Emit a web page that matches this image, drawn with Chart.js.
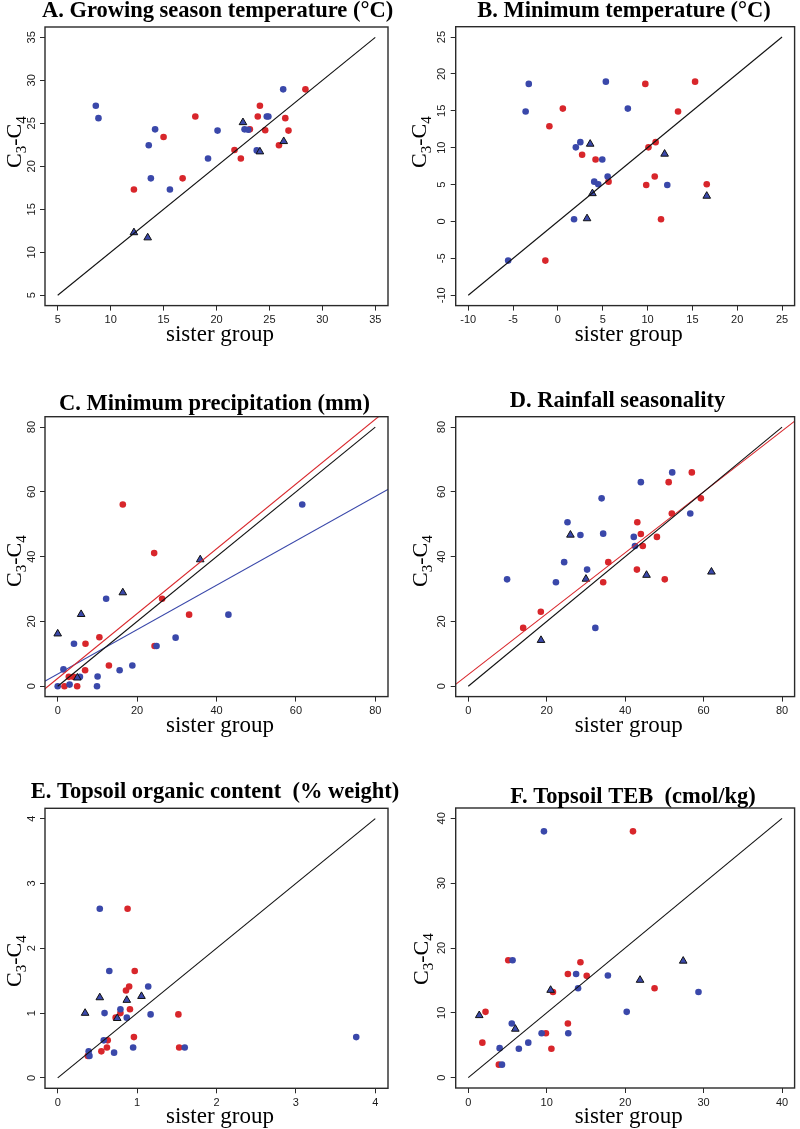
<!DOCTYPE html>
<html><head><meta charset="utf-8">
<script src="https://cdn.jsdelivr.net/npm/chart.js@4.4.0/dist/chart.umd.min.js"></script>
<style>
html,body{margin:0;padding:0;background:#fff;width:800px;height:1129px;overflow:hidden;position:relative}
canvas{position:absolute}
</style></head><body>
<canvas id="cA"></canvas><canvas id="cC"></canvas><canvas id="cE"></canvas>
<canvas id="cB"></canvas><canvas id="cD"></canvas><canvas id="cF"></canvas>
<script>
// ---------- DATA ----------
// Panel A: Growing season temperature
const A_ticks=[5,10,15,20,25,30,35];
const A_red=[[12.2,17.3],[15.0,23.4],[16.8,18.6],[18.0,25.8],[21.7,21.9],[22.3,20.9],[23.15,24.3],[23.9,25.8],[24.1,27.05],[24.6,24.2],[25.9,22.45],[26.5,25.6],[26.8,24.15],[28.4,28.95]];
const A_blue=[[8.6,27.05],[8.85,25.6],[13.6,22.45],[13.8,18.6],[14.2,24.3],[15.6,17.3],[19.2,20.9],[20.1,24.15],[22.65,24.3],[23.0,24.25],[23.8,21.85],[24.75,25.8],[24.9,25.8],[26.3,28.95]];
const A_tri=[[12.2,12.3],[13.5,11.7],[22.5,25.1],[24.1,21.7],[26.35,22.9]];
const A_one=[[5,5],[35,35]];
// Panel B: Minimum temperature
const B_ticks=[-10,-5,0,5,10,15,20,25];
const B_red=[[-1.4,-5.3],[-0.95,12.9],[0.55,15.3],[2.7,9.05],[4.2,8.4],[5.65,5.4],[9.75,18.65],[9.85,4.95],[10.1,10.05],[10.8,6.1],[10.9,10.75],[11.5,0.3],[13.4,14.9],[15.3,18.95],[16.6,5.05]];
const B_blue=[[-5.55,-5.3],[-3.6,14.9],[-3.25,18.65],[1.8,0.3],[2.0,10.05],[2.5,10.75],[4.05,5.4],[4.5,5.05],[4.95,8.4],[5.35,18.95],[5.55,6.1],[7.8,15.3],[12.2,4.95]];
const B_tri=[[3.6,10.5],[3.85,3.8],[3.25,0.4],[11.9,9.15],[16.6,3.45]];
const B_one=[[-10,-10],[25,25]];
// Panel C: Minimum precipitation
const C_ticks=[0,20,40,60,80];
const C_red=[[1.7,0],[2.8,2.9],[3.95,2.9],[4.9,0],[6.9,4.95],[7.0,13.1],[10.5,15.1],[12.9,6.4],[16.4,56.1],[24.3,41.1],[24.4,12.4],[26.3,27.0],[33.1,22.1]];
const C_blue=[[0,0],[1.45,5.2],[3.0,0.5],[4.1,13.1],[5.6,2.9],[9.9,0],[10.05,3.0],[12.2,27.0],[15.6,4.95],[18.8,6.4],[24.9,12.4],[29.7,15.0],[43.0,22.1],[61.6,56.1]];
const C_tri=[[0,16.2],[5.9,22.2],[4.95,2.6],[16.4,28.9],[35.9,39.1]];
const C_one=[[0,0],[80,80]];
const C_redFit=[[-10,-7.6],[90,92.4]];
const C_blueFit=[[-10,-3.1],[90,65.4]];
// Panel D: Rainfall seasonality
const D_ticks=[0,20,40,60,80];
const D_red=[[14.0,18.0],[18.5,23.0],[34.4,32.1],[35.7,38.3],[43.0,36.0],[43.1,50.6],[44.0,47.0],[44.5,43.3],[48.1,46.1],[50.1,33.0],[51.1,63.0],[51.9,53.3],[57.0,66.0],[59.3,58.0]];
const D_blue=[[9.9,33.0],[22.35,32.1],[24.45,38.3],[25.3,50.6],[28.6,46.7],[30.3,36.0],[32.4,18.0],[34.0,58.0],[34.4,47.1],[42.2,46.1],[42.5,43.3],[44.0,63.0],[52.0,66.0],[56.6,53.3]];
const D_tri=[[18.55,14.2],[26.05,46.7],[30.0,33.1],[45.45,34.3],[62.0,35.3]];
const D_one=[[0,0],[80,80]];
const D_redFit=[[-10,-5.8],[90,88.2]];
// Panel E: Topsoil organic content
const E_ticks=[0,1,2,3,4];
const E_red=[[0.38,0.34],[0.55,0.41],[0.62,0.47],[0.63,0.58],[0.73,0.93],[0.79,1.0],[0.86,1.35],[0.88,2.61],[0.9,1.41],[0.91,1.06],[0.96,0.63],[0.97,1.65],[1.52,0.98],[1.53,0.47]];
const E_blue=[[0.39,0.41],[0.4,0.34],[0.53,2.61],[0.58,0.58],[0.59,1.0],[0.65,1.65],[0.71,0.39],[0.79,1.06],[0.87,0.93],[0.95,0.47],[1.14,1.41],[1.17,0.98],[1.6,0.47],[3.76,0.63]];
const E_tri=[[0.345,1.0],[0.53,1.24],[0.75,0.92],[0.87,1.2],[1.055,1.26]];
const E_one=[[0,0],[4,4]];
// Panel F: Topsoil TEB
const F_ticks=[0,10,20,30,40];
const F_red=[[1.8,5.4],[2.2,10.15],[3.9,2.0],[5.1,18.1],[9.9,6.85],[10.6,4.45],[10.8,13.2],[12.7,16.0],[12.7,8.35],[14.3,17.8],[15.1,15.7],[21.0,38.0],[23.75,13.8]];
const F_blue=[[4.0,4.55],[4.3,2.0],[5.55,8.35],[5.65,18.1],[6.45,4.45],[7.65,5.4],[9.35,6.85],[9.65,38.0],[12.75,6.85],[13.75,16.0],[14.0,13.8],[17.8,15.75],[20.2,10.15],[29.35,13.2]];
const F_tri=[[1.4,9.6],[6.0,7.5],[10.5,13.5],[21.9,15.05],[27.4,18.0]];
const F_one=[[0,0],[40,40]];

const TITLES=["A. Growing season temperature (°C)","B. Minimum temperature (°C)","C. Minimum precipitation (mm)","D. Rainfall seasonality","E. Topsoil organic content  (% weight)","F. Topsoil TEB  (cmol/kg)"];
const XLABEL="sister group";

// ---------- STYLE ----------
const RED='#d8262b', BLUE='#3a48aa', BLACK='#111';

const panels=[
 {id:'cA',cx:0,cy:0,cw:420,ch:380,plot:[45,27,388,305.6],title:TITLES[0],tx:217.5,ty:16.7,yt:[21,168],ticks:A_ticks,red:A_red,blue:A_blue,tri:A_tri,lines:[{d:A_one,c:BLACK}]},
 {id:'cB',cx:400,cy:0,cw:400,ch:380,plot:[455.7,26.7,798,305.6],title:TITLES[1],tx:624,ty:16.7,yt:[426,168],ticks:B_ticks,red:B_red,blue:B_blue,tri:B_tri,lines:[{d:B_one,c:BLACK}]},
 {id:'cC',cx:0,cy:380,cw:420,ch:390,plot:[45,416.7,388,696.6],title:TITLES[2],tx:214.5,ty:410,yt:[21,587],ticks:C_ticks,red:C_red,blue:C_blue,tri:C_tri,lines:[{d:C_one,c:BLACK},{d:C_redFit,c:RED},{d:C_blueFit,c:BLUE}]},
 {id:'cD',cx:400,cy:380,cw:400,ch:390,plot:[455.7,416.7,798,696.6],title:TITLES[3],tx:617.5,ty:407.3,yt:[427,587],ticks:D_ticks,red:D_red,blue:D_blue,tri:D_tri,lines:[{d:D_one,c:BLACK},{d:D_redFit,c:RED}]},
 {id:'cE',cx:0,cy:770,cw:420,ch:359,plot:[45,808.3,388,1088.3],title:TITLES[4],tx:215,ty:798.3,yt:[21,987],ticks:E_ticks,red:E_red,blue:E_blue,tri:E_tri,lines:[{d:E_one,c:BLACK}]},
 {id:'cF',cx:400,cy:770,cw:400,ch:359,plot:[455.7,808,798,1088],title:TITLES[5],tx:633,ty:802.7,yt:[428,985],ticks:F_ticks,red:F_red,blue:F_blue,tri:F_tri,lines:[{d:F_one,c:BLACK}]}
];

const pts=a=>a.map(p=>({x:p[0],y:p[1]}));

function drawYTitle(ctx,x,y){
  ctx.save(); ctx.translate(x,y); ctx.rotate(-Math.PI/2);
  ctx.textAlign='left'; ctx.textBaseline='alphabetic'; ctx.fillStyle='#000';
  const big='22px "Liberation Serif"', small='15px "Liberation Serif"';
  let px=0;
  [['C',big,0],['3',small,5],['-',big,0],['C',big,0],['4',small,5]].forEach(([t,f,dy])=>{
    ctx.font=f; ctx.fillText(t,px,dy); px+=ctx.measureText(t).width;
  });
  ctx.restore();
}

function makePanel(P){
  const cv=document.getElementById(P.id);
  cv.width=P.cw; cv.height=P.ch; cv.style.left=P.cx+'px'; cv.style.top=P.cy+'px';
  const t0=P.ticks[0], t1=P.ticks[P.ticks.length-1], span=t1-t0;
  const mn=t0-0.04*span, mx=t1+0.04*span;
  const [L,T,R,B]=P.plot;
  const YW=8, XH=30;
  const datasets=[];
  P.lines.forEach(l=>datasets.push({data:pts(l.d),showLine:true,borderColor:l.c,borderWidth:1.1,pointRadius:0,fill:false}));
  datasets.push({data:pts(P.tri),pointStyle:'triangle',pointRadius:4.4,backgroundColor:BLUE,borderColor:'#111',borderWidth:1});
  datasets.push({data:pts(P.blue),pointRadius:3.3,backgroundColor:BLUE,borderWidth:0});
  datasets.push({data:pts(P.red),pointRadius:3.3,backgroundColor:RED,borderWidth:0});
  const deco={id:'deco'+P.id,afterDraw(chart){
    const ctx=chart.ctx, ca=chart.chartArea, ys=chart.scales.y;
    ctx.save();
    ctx.strokeStyle='#2a2a2a'; ctx.lineWidth=1.4;
    ctx.strokeRect(ca.left,ca.top,ca.right-ca.left,ca.bottom-ca.top);
    ctx.fillStyle='#1a1a1a'; ctx.font='11px "Liberation Sans"';
    ctx.textAlign='center'; ctx.textBaseline='middle';
    P.ticks.forEach(v=>{
      const y=ys.getPixelForValue(v);
      ctx.save(); ctx.translate(ca.left-13.5,y); ctx.rotate(-Math.PI/2); ctx.fillText(String(v),0,0); ctx.restore();
    });
    ctx.fillStyle='#000';
    ctx.font='bold 22.5px "Liberation Serif"'; ctx.textBaseline='alphabetic';
    ctx.fillText(P.title,P.tx-P.cx,P.ty-P.cy);
    ctx.font='23px "Liberation Serif"';
    ctx.fillText(XLABEL,(ca.left+ca.right)/2+3.5,ca.bottom+35);
    ctx.restore();
    drawYTitle(ctx,P.yt[0]-P.cx,P.yt[1]-P.cy);
  }};
  new Chart(cv,{type:'scatter',data:{datasets},
    options:{responsive:false,animation:false,events:[],devicePixelRatio:1,
      layout:{padding:{left:L-P.cx-YW,right:P.cx+P.cw-R,top:T-P.cy,bottom:P.cy+P.ch-B-XH}},
      plugins:{legend:{display:false},title:{display:false},tooltip:{enabled:false}},
      scales:{
        x:{type:'linear',position:'bottom',min:mn,max:mx,
          afterBuildTicks:ax=>{ax.ticks=P.ticks.map(v=>({value:v}));},
          afterFit:ax=>{ax.height=XH;},
          grid:{display:true,drawOnChartArea:false,drawTicks:true,tickLength:5,tickColor:'#2a2a2a',tickWidth:1},
          border:{display:false},
          ticks:{font:{family:'Liberation Sans',size:11},color:'#1a1a1a',padding:3,maxRotation:0,minRotation:0,autoSkip:false,callback:v=>String(v)}},
        y:{type:'linear',position:'left',min:mn,max:mx,
          afterBuildTicks:ax=>{ax.ticks=P.ticks.map(v=>({value:v}));},
          afterFit:ax=>{ax.width=YW;},
          grid:{display:true,drawOnChartArea:false,drawTicks:true,tickLength:5,tickColor:'#2a2a2a',tickWidth:1},
          border:{display:false},
          ticks:{display:false}}
      }},
    plugins:[deco]});
}
panels.forEach(makePanel);
</script>
</body></html>
